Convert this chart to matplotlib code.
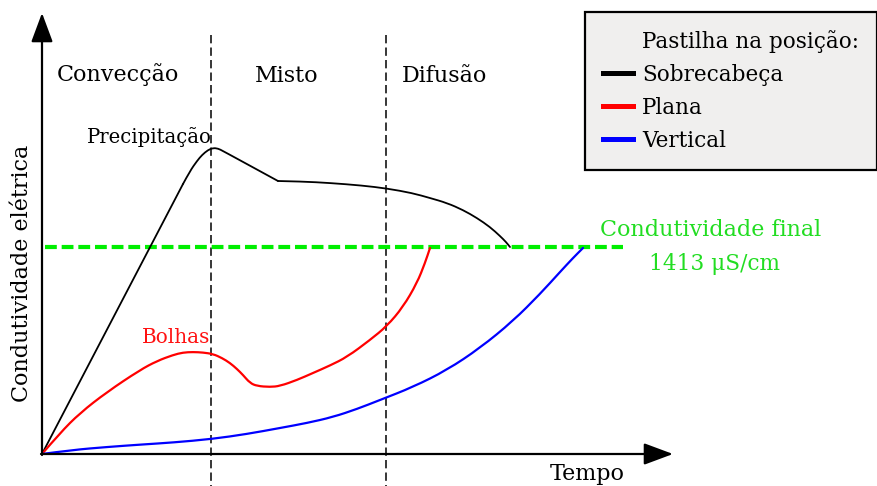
import matplotlib
matplotlib.use('Agg')
import matplotlib.pyplot as plt
from matplotlib.lines import Line2D
from matplotlib.path import Path
from matplotlib.patches import PathPatch

plt.rcParams['font.family'] = ['DejaVu Serif', 'DejaVu Sans']
plt.rcParams['lines.scale_dashes'] = False

# Schematic data (time units, conductivity units); origin at axes crossing
black_t = [0, 141, 148, 155, 160, 166, 171, 176, 181, 236, 260, 288, 320, 345, 370, 388,
           405, 421, 435, 448, 458, 464, 468]
black_c = [0, 270, 283, 293, 299, 304, 306, 305.5, 303, 273, 272.5, 271, 268.5, 265.5, 261, 256,
           251, 244, 236, 227, 218, 212, 207]
black_corners = [1, 9]  # indices where the sketch has sharp turns

red_t = [0, 18, 38, 65, 98, 115, 131, 141, 151, 161, 171, 180, 188, 195, 201, 208, 215, 228,
         238, 255, 271, 288, 305, 328, 345, 361, 375, 383, 388]
red_c = [0, 21, 41, 62, 84, 93, 99, 101.5, 102, 101.5, 100, 96, 91, 85, 79, 71, 68, 67,
         68, 74, 81, 88.5, 97, 114, 128, 147, 171, 191, 206]

blue_t = [0, 30, 65, 100, 131, 170, 205, 238, 265, 291, 315, 338, 371, 405, 438, 471, 498,
          518, 531, 541]
blue_c = [0, 4, 7, 9.5, 11.5, 15, 20, 26, 31, 37, 45, 54, 67, 84, 106, 133, 160,
          182, 196, 206]

boundaries = [169, 344]
final_level = 207
final_span = [3, 581]

region_labels = ['Convecção', 'Misto', 'Difusão']
series_names = ['Sobrecabeça', 'Plana', 'Vertical']
series_colors = ['black', '#ff0000', '#0000ff']


def smooth_path(xs, ys):
    """Quadratic Bezier path through midpoints, using the read points as controls."""
    pts = list(zip(xs, ys))
    verts = [pts[0]]
    codes = [Path.MOVETO]
    for i in range(1, len(pts) - 1):
        mid = ((pts[i][0] + pts[i + 1][0]) / 2, (pts[i][1] + pts[i + 1][1]) / 2)
        verts += [pts[i], mid]
        codes += [Path.CURVE3, Path.CURVE3]
    verts.append(pts[-1])
    codes.append(Path.LINETO)
    return Path(verts, codes)


fig = plt.figure(figsize=(8.78, 4.86), dpi=100)
ax = fig.add_axes([0, 0, 1, 1])
ax.set_xlim(-42, 836)
ax.set_ylim(-32, 454)
ax.axis('off')

# region boundaries
for b in boundaries:
    ax.plot([b, b], [419, -32], color='black', lw=1.1, dashes=(6, 3), zorder=2)

# final conductivity
ax.plot(final_span, [final_level, final_level], color='#00ee00', lw=3.0, dashes=(8.5, 3.5), zorder=2)

# curves
style = dict(fill=False, zorder=3, capstyle='round', joinstyle='round')
a, b = black_corners
ax.plot(black_t[:a + 1], black_c[:a + 1], color=series_colors[0], lw=1.3, zorder=3,
        solid_capstyle='round')
ax.add_patch(PathPatch(smooth_path(black_t[a:b + 1], black_c[a:b + 1]),
                       edgecolor=series_colors[0], lw=1.3, **style))
ax.add_patch(PathPatch(smooth_path(black_t[b:], black_c[b:]),
                       edgecolor=series_colors[0], lw=1.3, **style))
ax.add_patch(PathPatch(smooth_path(red_t, red_c), edgecolor=series_colors[1], lw=1.6, **style))
ax.add_patch(PathPatch(smooth_path(blue_t, blue_c), edgecolor=series_colors[2], lw=1.6, **style))

# axes arrows
arrow = dict(arrowstyle='-|>,head_length=1.8,head_width=0.67', mutation_scale=10,
             lw=1.6, color='black', shrinkA=0, shrinkB=0)
ax.annotate('', xy=(0, 441), xytext=(0, -1), arrowprops=arrow, zorder=4)
ax.annotate('', xy=(631, 0), xytext=(-1, 0), arrowprops=arrow, zorder=4)

# texts
ax.text(15, 373, region_labels[0], fontsize=16, ha='left', va='baseline')
ax.text(213, 372, region_labels[1], fontsize=16, ha='left', va='baseline')
ax.text(360, 372, region_labels[2], fontsize=16, ha='left', va='baseline')
ax.text(45, 311, 'Precipitação', fontsize=14.1, ha='left', va='baseline')
ax.text(100, 111, 'Bolhas', fontsize=14.4, ha='left', va='baseline', color='#ff1111')
ax.text(558, 218, 'Condutividade final', fontsize=16, ha='left', va='baseline', color='#22dd22')
ax.text(607, 184, '1413 μS/cm', fontsize=15.6, ha='left', va='baseline', color='#22dd22')
ax.text(508, -26, 'Tempo', fontsize=16, ha='left', va='baseline')
ax.text(-14, 52, 'Condutividade elétrica', fontsize=16, rotation=90, rotation_mode='anchor',
        ha='left', va='baseline')

# legend
handles = [Line2D([], [], color='none', lw=3.6)]
handles += [Line2D([], [], color=c, lw=3.6) for c in series_colors]
labels = ['Pastilha na posição:'] + series_names
leg = ax.legend(handles, labels, loc='upper right', bbox_to_anchor=(877 / 878, 474 / 486),
                bbox_transform=fig.transFigure, fontsize=15.5, handlelength=1.42,
                handletextpad=0.4, labelspacing=0.51, borderpad=0.84, borderaxespad=0,
                fancybox=False, framealpha=1, facecolor='#f0efee', edgecolor='black')
leg.get_frame().set_linewidth(1.6)

fig.savefig('out.png', dpi=100)
